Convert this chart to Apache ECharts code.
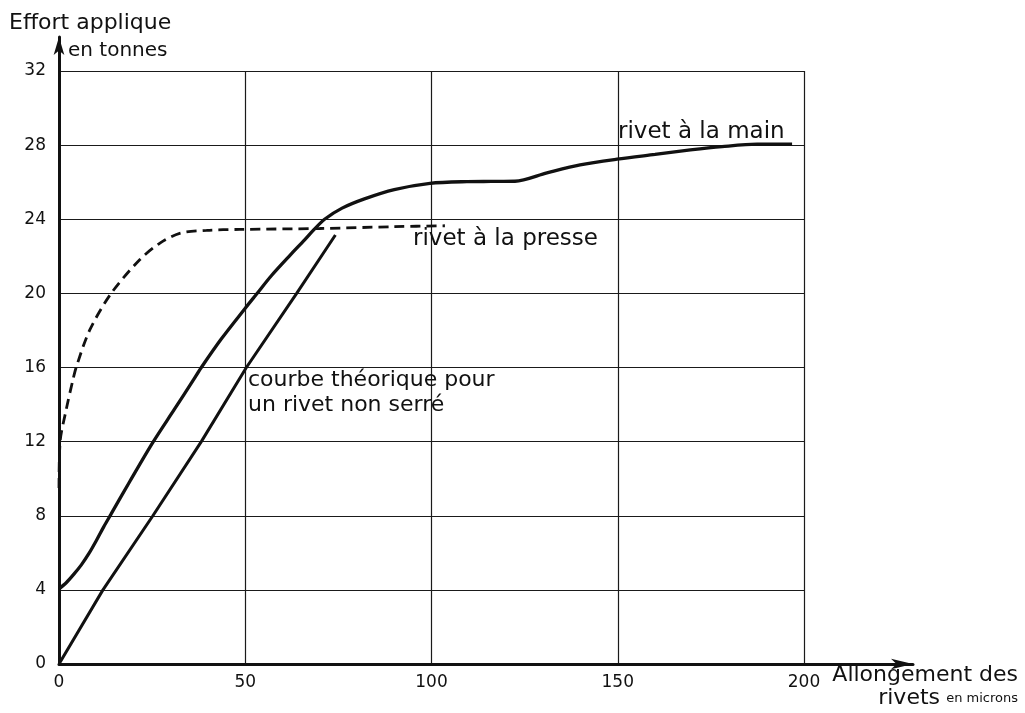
<!DOCTYPE html>
<html>
<head>
<meta charset="utf-8">
<script src="https://cdn.jsdelivr.net/npm/echarts@6/dist/echarts.min.js"></script>
<style>
html,body{margin:0;padding:0;background:#fff;}
#chart{width:1025px;height:713px;}
</style>
</head>
<body>
<div id="chart"></div>
<script>
// ---- data ----
const xTicks = [0, 50, 100, 150, 200];
const yTicks = [0, 4, 8, 12, 16, 20, 24, 28, 32];

const mainX = [0, 2, 4, 6, 8, 10, 12, 14, 19, 25.2, 31, 36, 38.2, 43.6, 50, 53, 57, 62, 66, 68.5, 71.3, 76, 82, 90, 99.6, 109.5, 116, 122.4, 131, 139.9, 149.8, 160, 169.5, 178, 187.4, 196.8];
const mainY = [4.05, 4.4, 4.85, 5.35, 5.95, 6.65, 7.4, 8.1, 9.85, 11.96, 13.75, 15.3, 16, 17.55, 19.2, 19.95, 20.95, 22.05, 22.9, 23.45, 24, 24.6, 25.1, 25.6, 25.94, 26.03, 26.04, 26.05, 26.5, 26.93, 27.24, 27.5, 27.74, 27.92, 28.05, 28.05];

const presseX = [0, 0.3, 1.9, 3.7, 4.6, 8.2, 14, 21.6, 27, 32.4, 39.6, 48.5, 70, 90, 103.6];
const presseY = [9.5, 12, 13.7, 15.3, 16, 18, 20, 21.8, 22.7, 23.24, 23.4, 23.45, 23.5, 23.6, 23.65];

const theoX = [0, 11.8, 25.2, 38.2, 50.3, 63.8, 74.2];
const theoY = [0, 4, 8, 12, 16, 20, 23.15];

const zip = (xs, ys) => xs.map((x, i) => [x, ys[i]]);

const FONT = 'DejaVu Sans';
const INK = '#111';

const chart = echarts.init(document.getElementById('chart'), null, {renderer: 'canvas'});

const option = {
  backgroundColor: '#fff',
  animation: false,
  grid: [
    {left: 59, right: 221, top: 71, bottom: 49},
    {left: 59, right: 112, top: 37, bottom: 49}
  ],
  xAxis: [
    {
      type: 'value', gridIndex: 0, min: 0, max: 200, interval: 50,
      axisLine: {show: false},
      axisTick: {show: false},
      splitLine: {show: true, lineStyle: {color: '#1a1a1a', width: 1.2}},
      axisLabel: {color: INK, fontFamily: FONT, fontSize: 17, margin: 10,
        formatter: v => xTicks.includes(v) ? String(v) : ''}
    },
    {
      type: 'value', gridIndex: 1, min: 0, max: 1,
      axisLine: {show: true, onZero: false, symbol: ['none', 'arrow'], symbolSize: [8, 22],
        lineStyle: {color: INK, width: 3}},
      axisTick: {show: false}, axisLabel: {show: false}, splitLine: {show: false}
    }
  ],
  yAxis: [
    {
      type: 'value', gridIndex: 0, min: 0, max: 32, interval: 4,
      axisLine: {show: false},
      axisTick: {show: false},
      splitLine: {show: true, lineStyle: {color: '#1a1a1a', width: 1.2}},
      axisLabel: {color: INK, fontFamily: FONT, fontSize: 17, margin: 13,
        formatter: v => yTicks.includes(v) ? String(v) : ''}
    },
    {
      type: 'value', gridIndex: 1, min: 0, max: 1,
      axisLine: {show: true, onZero: false, symbol: ['none', 'arrow'], symbolSize: [8, 18],
        lineStyle: {color: INK, width: 3}},
      axisTick: {show: false}, axisLabel: {show: false}, splitLine: {show: false}
    }
  ],
  series: [
    {
      name: 'rivet à la main', type: 'line', xAxisIndex: 0, yAxisIndex: 0,
      data: zip(mainX, mainY), showSymbol: false, smooth: 0.3,
      lineStyle: {color: INK, width: 3.3}, z: 5
    },
    {
      name: 'rivet à la presse', type: 'line', xAxisIndex: 0, yAxisIndex: 0,
      data: zip(presseX, presseY), showSymbol: false, smooth: 0.3,
      lineStyle: {color: INK, width: 2.8, type: [10, 6]}, z: 5
    },
    {
      name: 'courbe théorique', type: 'line', xAxisIndex: 0, yAxisIndex: 0,
      data: zip(theoX, theoY), showSymbol: false, smooth: false,
      lineStyle: {color: INK, width: 3}, z: 5
    }
  ],
  graphic: [
    {type: 'text', z: 10, style: {text: 'Effort applique', x: 9, y: 23, font: '22px "DejaVu Sans"', fill: INK, align: 'left', verticalAlign: 'middle'}},
    {type: 'text', z: 10, style: {text: 'en tonnes', x: 68, y: 51, font: '20px "DejaVu Sans"', fill: INK, align: 'left', verticalAlign: 'middle'}},
    {type: 'text', z: 10, style: {text: 'Allongement des', x: 1018, y: 675, font: '22px "DejaVu Sans"', fill: INK, align: 'right', verticalAlign: 'middle'}},
    {type: 'text', z: 10, style: {text: 'en microns', x: 1018, y: 699, font: '13px "DejaVu Sans"', fill: INK, align: 'right', verticalAlign: 'middle'}},
    {type: 'text', z: 10, style: {text: 'rivets', x: 940, y: 698, font: '22px "DejaVu Sans"', fill: INK, align: 'right', verticalAlign: 'middle'}},
    {type: 'text', z: 10, style: {text: 'rivet à la main', x: 618, y: 132, font: '23px "DejaVu Sans"', fill: INK, align: 'left', verticalAlign: 'middle'}},
    {type: 'text', z: 10, style: {text: 'rivet à la presse', x: 413, y: 239, font: '23px "DejaVu Sans"', fill: INK, align: 'left', verticalAlign: 'middle'}},
    {type: 'text', z: 10, style: {text: 'courbe théorique pour', x: 248, y: 380, font: '22px "DejaVu Sans"', fill: INK, align: 'left', verticalAlign: 'middle'}},
    {type: 'text', z: 10, style: {text: 'un rivet non serré', x: 248, y: 405, font: '22px "DejaVu Sans"', fill: INK, align: 'left', verticalAlign: 'middle'}}
  ]
};
chart.setOption(option);
</script>
</body>
</html>
